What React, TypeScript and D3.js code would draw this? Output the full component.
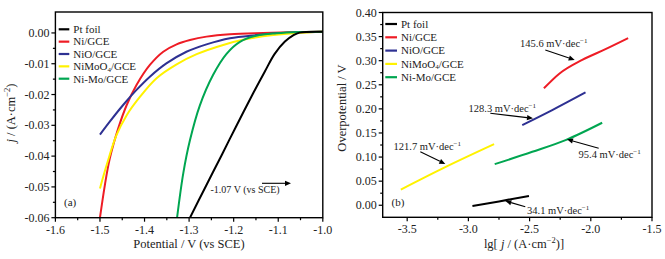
import React from "react";
import * as d3 from "d3";

// ---------- Panel (a): LSV curves ----------
const seriesNames = ["Pt foil", "Ni/GCE", "NiO/GCE", "NiMoO4/GCE", "Ni-Mo/GCE"];
const seriesColors = ["#000000", "#ee1c25", "#2e3192", "#fff200", "#00a651"];

const ptE = [-1.298, -1.265, -1.227, -1.194, -1.156, -1.13, -1.108, -1.085, -1.0665, -1.052, -1.0];
const ptJ = [-0.06, -0.0505, -0.0397, -0.0302, -0.0195, -0.0125, -0.0068, -0.0028, -0.0008, 0.0001, 0.0004];

const niE = [-1.5, -1.489, -1.478, -1.459, -1.44, -1.418, -1.388, -1.358, -1.328, -1.298, -1.261, -1.2085, -1.134, -1.0];
const niJ = [-0.06, -0.0494, -0.0408, -0.031, -0.0234, -0.0169, -0.0104, -0.0061, -0.0037, -0.0023, -0.0012, -0.0004, 0.0, 0.0004];

const nioE = [-1.5, -1.478, -1.448, -1.418, -1.388, -1.351, -1.306, -1.261, -1.2085, -1.149, -1.089, -1.0];
const nioJ = [-0.033, -0.0288, -0.0234, -0.0185, -0.0142, -0.0099, -0.0061, -0.0037, -0.0017, -0.0007, 0.0, 0.0004];

const nimoo4E = [-1.5, -1.485, -1.463, -1.44, -1.41, -1.373, -1.328, -1.283, -1.2235, -1.171, -1.111, -1.059, -1.0];
const nimoo4J = [-0.0505, -0.0429, -0.0332, -0.0267, -0.0207, -0.0147, -0.0102, -0.0069, -0.0039, -0.002, -0.0007, 0.0, 0.0004];

const nimoE = [-1.327, -1.313, -1.298, -1.276, -1.246, -1.216, -1.186, -1.149, -1.104, -1.052, -1.0];
const nimoJ = [-0.06, -0.0455, -0.0348, -0.0236, -0.0136, -0.0068, -0.0029, -0.0009, -0.0001, 0.0003, 0.0004];

const aXTicks = [-1.6, -1.5, -1.4, -1.3, -1.2, -1.1, -1.0];
const aYTicks = [0.0, -0.01, -0.02, -0.03, -0.04, -0.05, -0.06];

// ---------- Panel (b): Tafel lines ----------
const tPtX = [-2.967, -2.75, -2.505];
const tPtY = [-0.0014, 0.008, 0.0194];
const tNiX = [-2.383, -2.26, -2.07, -1.88, -1.695];
const tNiY = [0.2427, 0.2725, 0.3016, 0.3238, 0.3467];
const tNioX = [-2.56, -2.315, -2.043];
const tNioY = [0.1664, 0.1976, 0.2343];
const tNimoo4X = [-3.552, -3.185, -2.79];
const tNimoo4Y = [0.0326, 0.0797, 0.1269];
const tNimoX = [-2.785, -2.478, -2.206, -1.907];
const tNimoY = [0.0853, 0.1109, 0.1352, 0.1712];

const bXTicks = [-3.5, -3.0, -2.5, -2.0, -1.5];
const bYTicks = [0.0, 0.05, 0.1, 0.15, 0.2, 0.25, 0.3, 0.35, 0.4];

const slopeLabels = ["34.1", "145.6", "128.3", "121.7", "95.4"];

const FONT = "'Liberation Serif', 'Times New Roman', serif";

const xa = d3.scaleLinear().domain([-1.6, -1.0]).range([55.4, 322.8]);
const ya = d3.scaleLinear().domain([-0.06, 0.0068]).range([217.7, 12]);
const xb = d3.scaleLinear().domain([-3.7, -1.5]).range([382.7, 652]);
const yb = d3.scaleLinear().domain([-0.025, 0.4]).range([217.3, 12.5]);

function zip(xs: number[], ys: number[]) {
  return xs.map((x, i) => [x, ys[i]] as [number, number]);
}

function Axes({ x, y, xTicks, yTicks, xMinor, yMinor, xFmt, yFmt }: any) {
  const [x0, x1] = x.range();
  const [y0, y1] = y.range();
  return (
    <g>
      <rect x={x0} y={y1} width={x1 - x0} height={y0 - y1} fill="none" stroke="#000" strokeWidth={1.4} />
      {xMinor.map((t: number, i: number) => (
        <line key={"xm" + i} x1={x(t)} x2={x(t)} y1={y0} y2={y0 + 2.5} stroke="#000" strokeWidth={1.2} />
      ))}
      {yMinor.map((t: number, i: number) => (
        <line key={"ym" + i} x1={x0} x2={x0 - 2.5} y1={y(t)} y2={y(t)} stroke="#000" strokeWidth={1.2} />
      ))}
      {xTicks.map((t: number, i: number) => (
        <g key={"xt" + i}>
          <line x1={x(t)} x2={x(t)} y1={y0} y2={y0 + 4} stroke="#000" strokeWidth={1.2} />
          <text x={x(t)} y={y0 + 16} textAnchor="middle" fontSize={12} fontFamily={FONT} fill="#222">
            {xFmt(t)}
          </text>
        </g>
      ))}
      {yTicks.map((t: number, i: number) => (
        <g key={"yt" + i}>
          <line x1={x0} x2={x0 - 4} y1={y(t)} y2={y(t)} stroke="#000" strokeWidth={1.2} />
          <text x={x0 - 6} y={y(t) + 4} textAnchor="end" fontSize={12} fontFamily={FONT} fill="#222">
            {yFmt(t)}
          </text>
        </g>
      ))}
    </g>
  );
}

function Legend({ x, y, dy, lineLen }: any) {
  return (
    <g>
      {seriesNames.map((n, i) => (
        <g key={n}>
          <line x1={x} x2={x + lineLen} y1={y + i * dy} y2={y + i * dy} stroke={seriesColors[i]} strokeWidth={2.2} />
          <text x={x + lineLen + 4} y={y + i * dy + 3.8} fontSize={11} fontFamily={FONT} fill="#222">
            {n === "NiMoO4/GCE" ? (
              <>
                NiMoO<tspan fontSize={7} dy={1.5}>4</tspan>
                <tspan dy={-1.5}>/GCE</tspan>
              </>
            ) : (
              n
            )}
          </text>
        </g>
      ))}
    </g>
  );
}

function Arrow({ x1, y1, x2, y2 }: any) {
  const ang = Math.atan2(y2 - y1, x2 - x1);
  const L = 6, W = 2.6;
  const bx = x2 - L * Math.cos(ang), by = y2 - L * Math.sin(ang);
  const p = `${x2},${y2} ${bx + W * Math.sin(ang)},${by - W * Math.cos(ang)} ${bx - W * Math.sin(ang)},${by + W * Math.cos(ang)}`;
  return (
    <g>
      <line x1={x1} y1={y1} x2={bx} y2={by} stroke="#000" strokeWidth={1.1} />
      <polygon points={p} fill="#000" />
    </g>
  );
}

function SlopeText({ x, y, v }: any) {
  return (
    <text x={x} y={y} fontSize={10.5} fontFamily={FONT} fill="#222">
      {v} mV·dec<tspan fontSize={7} dy={-4}>−1</tspan>
    </text>
  );
}

export default function App() {
  const lineA = d3
    .line<[number, number]>()
    .x((d) => xa(d[0]))
    .y((d) => ya(d[1]))
    .curve(d3.curveCatmullRom.alpha(0.5));
  const lineB = d3
    .line<[number, number]>()
    .x((d) => xb(d[0]))
    .y((d) => yb(d[1]))
    .curve(d3.curveMonotoneX);

  const aData = [zip(ptE, ptJ), zip(niE, niJ), zip(nioE, nioJ), zip(nimoo4E, nimoo4J), zip(nimoE, nimoJ)];
  const bData = [zip(tPtX, tPtY), zip(tNiX, tNiY), zip(tNioX, tNioY), zip(tNimoo4X, tNimoo4Y), zip(tNimoX, tNimoY)];
  const drawOrder = [1, 2, 3, 4, 0];

  const aXMinor = d3.range(-1.55, -1.0, 0.1);
  const aYMinor = d3.range(-0.055, 0.004, 0.01);
  const bXMinor = d3.range(-3.25, -1.5, 0.5);
  const bYMinor = d3.range(-0.025, 0.4, 0.05).filter((v) => v > -0.02);

  return (
    <svg width={665} height={259} style={{ position: "absolute", left: 0, top: 0, background: "#fff" }}>
      <defs>
        <clipPath id="clipA">
          <rect x={55.4} y={12} width={322.8 - 55.4} height={217.7 - 12} />
        </clipPath>
        <clipPath id="clipB">
          <rect x={382.7} y={12.5} width={652 - 382.7} height={217.3 - 12.5} />
        </clipPath>
      </defs>

      {/* Panel (a) */}
      <g clipPath="url(#clipA)">
        {drawOrder.map((i) => (
          <path key={i} d={lineA(aData[i]) || ""} fill="none" stroke={seriesColors[i]} strokeWidth={2} />
        ))}
      </g>
      <Axes
        x={xa}
        y={ya}
        xTicks={aXTicks}
        yTicks={aYTicks}
        xMinor={aXMinor}
        yMinor={aYMinor}
        xFmt={(t: number) => d3.format(".1f")(t).replace("−", "-")}
        yFmt={(t: number) => d3.format(".2f")(t).replace("−", "-")}
      />
      <Legend x={58.7} y={29.3} dy={12.35} lineLen={10.6} />
      <text x={64} y={206} fontSize={11} fontFamily={FONT} fill="#222">(a)</text>
      <text x={210.5} y={192.5} fontSize={10} fontFamily={FONT} fill="#222">-1.07 V (vs SCE)</text>
      <Arrow x1={262} y1={183.3} x2={291} y2={183.3} />
      <text x={189} y={248} textAnchor="middle" fontSize={12.5} fontFamily={FONT} fill="#222">
        Potential / V (vs SCE)
      </text>
      <text transform="translate(15,113) rotate(-90)" textAnchor="middle" fontSize={12.5} fontFamily={FONT} fill="#222">
        <tspan fontStyle="italic">j</tspan> / (A·cm<tspan fontSize={8.5} dy={-5}>−2</tspan>
        <tspan dy={5}>)</tspan>
      </text>

      {/* Panel (b) */}
      <g clipPath="url(#clipB)">
        {drawOrder.map((i) => (
          <path key={i} d={lineB(bData[i]) || ""} fill="none" stroke={seriesColors[i]} strokeWidth={2} />
        ))}
      </g>
      <Axes
        x={xb}
        y={yb}
        xTicks={bXTicks}
        yTicks={bYTicks}
        xMinor={bXMinor}
        yMinor={bYMinor}
        xFmt={(t: number) => d3.format(".1f")(t).replace("−", "-")}
        yFmt={(t: number) => d3.format(".2f")(t)}
      />
      <Legend x={385.3} y={24} dy={13.3} lineLen={11.7} />
      <text x={391.5} y={205.5} fontSize={11} fontFamily={FONT} fill="#222">(b)</text>

      <SlopeText x={520} y={47} v={slopeLabels[1]} />
      <Arrow x1={545.3} y1={50} x2={574.7} y2={60} />
      <SlopeText x={468.5} y={112} v={slopeLabels[2]} />
      <Arrow x1={490.3} y1={113.3} x2={533} y2={118.3} />
      <SlopeText x={393.5} y={149.5} v={slopeLabels[3]} />
      <Arrow x1={420.3} y1={151.7} x2={445.3} y2={164} />
      <SlopeText x={578.5} y={158} v={slopeLabels[4]} />
      <Arrow x1={598.7} y1={148.3} x2={567} y2={139.3} />
      <SlopeText x={527} y={214} v={slopeLabels[0]} />
      <Arrow x1={525.3} y1={206.7} x2={505.3} y2={201} />

      <text x={524} y={248} textAnchor="middle" fontSize={12.5} fontFamily={FONT} fill="#222">
        lg[ <tspan fontStyle="italic">j</tspan> / (A·cm<tspan fontSize={8.5} dy={-5}>−2</tspan>
        <tspan dy={5}>)]</tspan>
      </text>
      <text transform="translate(346,108) rotate(-90)" textAnchor="middle" fontSize={12.5} fontFamily={FONT} fill="#222">
        Overpotential / V
      </text>
    </svg>
  );
}
